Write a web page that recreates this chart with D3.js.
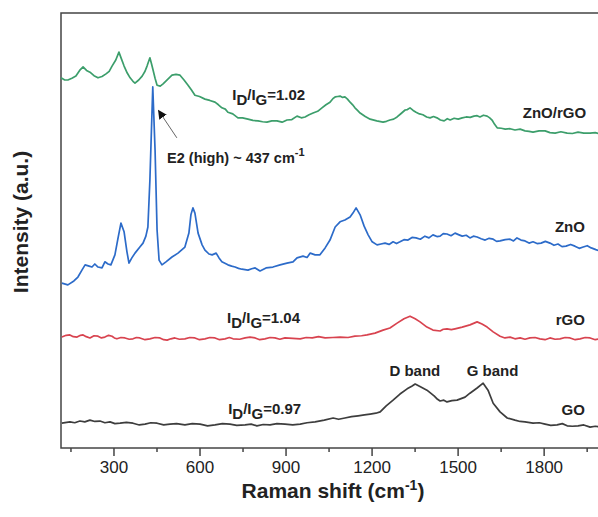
<html>
<head>
<meta charset="utf-8">
<script src="https://d3js.org/d3.v7.min.js"></script>
<style>
  body { margin: 0; background: #fff; }
  text { font-family: "Liberation Sans", Arial, sans-serif; fill: #222; }
</style>
</head>
<body>
<svg id="chart"></svg>
<script>
// Raman spectra, [shift cm-1, intensity a.u.]
var goData = [[120,5.7],[148,6.0],[165,5.8],[183,6.2],[200,6.0],[218,6.4],[235,6.1],[253,6.2],[270,5.8],[288,6.0],[305,5.6],[323,5.7],[345,5.9],[368,5.7],[390,5.3],[410,5.5],[430,5.8],[452,5.7],[475,5.3],[497,5.5],[520,5.6],[549,5.3],[575,5.6],[602,5.5],[628,5.1],[654,5.3],[680,5.6],[706,5.5],[730,5.2],[759,5.3],[780,5.5],[800,5.1],[822,5.4],[846,5.3],[870,5.6],[898,5.5],[925,5.3],[951,5.5],[975,5.8],[1003,6.0],[1035,6.4],[1066,6.9],[1085,6.6],[1107,6.9],[1130,7.2],[1153,7.4],[1175,7.6],[1195,7.8],[1215,8.0],[1230,8.3],[1251,9.7],[1275,11.0],[1299,12.4],[1324,13.6],[1340,14.2],[1352,14.7],[1372,14.0],[1393,13.3],[1418,12.0],[1430,11.2],[1439,10.8],[1452,11.0],[1463,10.6],[1480,10.9],[1498,11.0],[1526,11.7],[1543,12.6],[1568,13.8],[1589,14.9],[1606,13.3],[1624,10.3],[1648,8.3],[1673,6.9],[1700,6.4],[1718,6.1],[1735,6.0],[1763,5.7],[1785,5.8],[1805,5.5],[1825,5.2],[1847,5.3],[1865,5.6],[1882,5.1],[1900,5.0],[1920,5.1],[1940,5.3],[1962,4.8],[1980,5.0],[1997,4.8]];

var rgoData = [[120,25.5],[135,25.9],[148,26.0],[160,25.6],[173,25.5],[185,25.9],[194,26.0],[205,25.6],[218,25.3],[232,25.8],[246,25.7],[258,25.3],[270,25.5],[283,25.9],[295,25.7],[303,25.3],[312,25.1],[326,25.4],[340,25.3],[355,25.0],[368,25.1],[380,25.4],[392,25.3],[410,24.9],[427,25.1],[445,25.4],[462,25.3],[475,24.9],[487,24.8],[500,25.1],[514,25.3],[530,25.0],[549,25.1],[566,25.4],[584,25.3],[600,24.9],[619,25.1],[636,25.4],[654,25.3],[670,24.9],[689,25.1],[704,25.4],[717,25.1],[740,25.0],[759,25.3],[776,25.5],[794,25.3],[810,24.9],[828,25.1],[846,25.4],[863,25.3],[880,25.0],[898,25.3],[925,25.2],[951,25.1],[972,25.4],[993,25.3],[1015,25.6],[1038,25.3],[1065,25.4],[1090,25.5],[1118,25.4],[1142,25.7],[1165,25.8],[1184,26.0],[1212,26.4],[1240,27.1],[1264,27.6],[1289,28.7],[1313,29.7],[1334,30.3],[1352,29.7],[1369,29.0],[1393,27.8],[1414,27.1],[1439,26.9],[1450,27.3],[1463,27.4],[1478,27.2],[1491,27.4],[1516,27.8],[1543,28.3],[1568,29.0],[1585,28.5],[1603,27.8],[1624,26.7],[1648,25.7],[1665,25.3],[1683,25.5],[1700,25.1],[1718,25.3],[1735,25.0],[1752,25.3],[1770,25.4],[1787,25.1],[1805,24.9],[1822,25.3],[1840,25.0],[1857,25.1],[1875,25.4],[1892,25.3],[1910,24.9],[1927,25.1],[1945,25.4],[1962,25.3],[1980,24.9],[1997,25.1]];

var znoData = [[120,37.9],[141,37.5],[162,38.4],[176,39.3],[190,40.9],[201,42.1],[215,41.8],[225,41.6],[235,42.3],[246,41.6],[260,41.4],[270,42.8],[281,42.3],[291,42.1],[305,44.4],[316,48.3],[326,51.7],[337,49.7],[347,45.1],[354,42.5],[364,43.7],[375,44.8],[392,46.2],[403,47.1],[413,48.7],[420,50.8],[427,61.6],[437,83.0],[445,68.5],[452,50.1],[459,43.2],[469,42.1],[483,42.8],[504,43.9],[525,44.8],[549,46.2],[563,49.4],[570,53.6],[577,55.2],[584,54.0],[595,49.4],[609,46.7],[619,45.5],[633,44.6],[644,44.4],[658,44.8],[668,43.7],[678,42.8],[699,42.1],[712,41.8],[724,41.6],[736,41.3],[748,41.1],[769,40.9],[782,41.2],[794,41.4],[811,40.7],[832,41.4],[856,41.6],[881,42.1],[905,42.5],[926,42.8],[940,43.7],[961,44.1],[975,43.8],[986,44.8],[1003,44.4],[1020,44.4],[1038,46.0],[1055,47.8],[1073,50.8],[1090,52.0],[1107,52.4],[1125,53.1],[1135,54.0],[1146,55.2],[1160,53.6],[1174,51.0],[1188,49.0],[1202,47.4],[1219,46.7],[1233,46.9],[1247,47.1],[1261,46.8],[1275,47.4],[1287,47.0],[1299,47.4],[1313,47.9],[1327,47.8],[1341,48.4],[1355,48.3],[1370,48.0],[1386,48.7],[1400,48.3],[1414,49.0],[1428,48.6],[1439,48.7],[1450,49.3],[1463,49.2],[1477,48.8],[1491,49.4],[1505,49.0],[1516,48.7],[1530,48.9],[1543,48.3],[1555,48.7],[1568,48.5],[1582,48.1],[1596,47.8],[1610,48.2],[1624,48.0],[1636,47.5],[1648,47.6],[1666,47.9],[1683,48.0],[1695,47.6],[1707,48.3],[1721,47.8],[1735,47.6],[1749,47.1],[1763,47.4],[1777,47.0],[1791,47.1],[1806,47.5],[1822,47.1],[1836,46.6],[1850,46.9],[1864,46.3],[1878,46.4],[1894,46.8],[1909,46.4],[1924,45.9],[1938,46.2],[1952,46.5],[1966,46.0],[1982,45.6],[1997,45.3]];

var znoRgoData = [[117,85.1],[130,84.6],[141,84.6],[155,85.0],[169,85.5],[182,86.8],[194,87.6],[206,86.8],[218,86.4],[232,85.6],[246,85.1],[260,85.4],[274,86.0],[285,86.6],[295,87.8],[308,89.2],[319,91.0],[328,89.4],[337,87.8],[348,86.2],[358,85.1],[368,84.3],[375,83.9],[388,84.6],[400,85.5],[410,86.6],[417,87.8],[427,89.7],[433,88.2],[438,86.9],[445,85.0],[452,83.4],[463,83.2],[473,83.7],[488,84.7],[504,85.7],[518,85.9],[532,85.7],[546,84.6],[560,83.4],[572,82.3],[584,81.1],[600,80.8],[619,80.2],[636,79.9],[654,79.5],[666,78.9],[678,78.2],[690,77.9],[699,77.2],[716,76.8],[734,75.9],[750,75.9],[769,75.6],[786,75.3],[804,75.2],[820,75.0],[835,74.9],[852,75.2],[870,75.2],[888,74.9],[905,75.4],[922,75.5],[940,76.3],[955,75.9],[968,76.1],[982,76.6],[996,77.0],[1012,77.4],[1027,78.2],[1041,78.9],[1055,79.5],[1065,80.3],[1073,80.7],[1082,80.8],[1090,80.9],[1099,80.6],[1107,80.7],[1116,80.2],[1125,79.5],[1134,78.9],[1142,78.2],[1151,77.6],[1160,77.0],[1178,76.2],[1195,75.6],[1218,75.2],[1240,74.9],[1252,75.1],[1264,75.4],[1277,75.6],[1289,76.1],[1303,76.9],[1317,77.7],[1325,77.8],[1334,78.2],[1345,77.6],[1355,77.2],[1367,76.8],[1379,76.6],[1392,76.1],[1404,75.9],[1416,76.2],[1428,75.9],[1440,75.4],[1453,75.2],[1464,75.7],[1474,75.4],[1488,75.8],[1502,75.6],[1516,75.9],[1530,76.1],[1544,76.0],[1557,76.3],[1568,76.4],[1578,76.1],[1590,76.5],[1603,76.3],[1612,75.9],[1620,75.4],[1629,74.4],[1638,73.6],[1652,73.5],[1666,73.3],[1683,73.4],[1700,73.1],[1718,73.3],[1735,72.9],[1749,72.8],[1763,72.6],[1784,72.9],[1805,72.9],[1822,72.5],[1840,72.4],[1860,72.7],[1882,72.4],[1900,72.3],[1920,72.6],[1940,72.4],[1962,72.4],[1980,72.5],[1997,72.2]];

var seriesNames = ["GO", "rGO", "ZnO", "ZnO/rGO"];
var seriesColors = ["#3d3d3d", "#d8434f", "#2c6bc9", "#3c9e6b"];
var xTicks = [300, 600, 900, 1200, 1500, 1800];
var xMinorTicks = [150, 450, 750, 1050, 1350, 1650, 1950];

var width = 598, height = 517;
var margins = {top: 13, left: 61, right: -3, bottom: 69};

var svg = d3.select("#chart")
    .attr("width", width)
    .attr("height", height);

var xScale = d3.scaleLinear()
    .domain([117, 2000])
    .range([margins.left, width - margins.right]);

var yScale = d3.scaleLinear()
    .domain([0, 100])
    .range([height - margins.bottom, margins.top]);

// frame
svg.append("rect")
    .attr("x", margins.left)
    .attr("y", margins.top)
    .attr("width", width - margins.right - margins.left)
    .attr("height", height - margins.bottom - margins.top)
    .attr("fill", "none")
    .attr("stroke", "#444")
    .attr("stroke-width", 1.5);

// x axis, major + minor ticks
var xAxis = svg.append("g")
    .attr("transform", "translate(0," + (height - margins.bottom) + ")")
    .call(d3.axisBottom(xScale).tickValues(xTicks).tickFormat(d3.format("d"))
        .tickSize(8).tickSizeOuter(0).tickPadding(5));
xAxis.select(".domain").remove();
xAxis.selectAll("line").attr("stroke", "#444").attr("stroke-width", 1.5);
xAxis.selectAll("text")
    .attr("font-size", 17)
    .attr("fill", "#222")
    .style("font-family", "Liberation Sans, Arial, sans-serif");

var xMinor = svg.append("g")
    .attr("transform", "translate(0," + (height - margins.bottom) + ")")
    .call(d3.axisBottom(xScale).tickValues(xMinorTicks).tickSize(4).tickSizeOuter(0).tickFormat(""));
xMinor.select(".domain").remove();
xMinor.selectAll("line").attr("stroke", "#444").attr("stroke-width", 1.5);

// spectra
var line = d3.line()
    .x(function(d) { return xScale(d[0]); })
    .y(function(d) { return yScale(d[1]); });

var allData = [goData, rgoData, znoData, znoRgoData];
var plot = svg.append("g");
allData.forEach(function(data, i) {
    plot.append("path")
        .datum(data)
        .attr("d", line)
        .attr("fill", "none")
        .attr("stroke", seriesColors[i])
        .attr("stroke-width", 1.7)
        .attr("stroke-linejoin", "round");
});

// series labels
var labelPos = [[1944, 7.6], [1944, 28.3], [1944, 49.7], [1948, 75.9]];
seriesNames.forEach(function(name, i) {
    svg.append("text")
        .attr("x", xScale(labelPos[i][0]))
        .attr("y", yScale(labelPos[i][1]))
        .attr("text-anchor", "end")
        .attr("font-size", 15)
        .attr("font-weight", "bold")
        .text(name);
});

// ID/IG ratios
var ratios = [["0.97", 700, 7.8], ["1.04", 696, 28.7], ["1.02", 714, 80.0]];
ratios.forEach(function(r) {
    var t = svg.append("text")
        .attr("x", xScale(r[1]))
        .attr("y", yScale(r[2]))
        .attr("font-size", 15)
        .attr("font-weight", "bold");
    t.append("tspan").text("I");
    t.append("tspan").attr("dy", 5).text("D");
    t.append("tspan").attr("dy", -5).text("/I");
    t.append("tspan").attr("dy", 5).text("G");
    t.append("tspan").attr("dy", -5).text("=" + r[0]);
});

// band labels
svg.append("text")
    .attr("x", xScale(1351))
    .attr("y", yScale(16.6))
    .attr("text-anchor", "middle")
    .attr("font-size", 15)
    .attr("font-weight", "bold")
    .text("D band");
svg.append("text")
    .attr("x", xScale(1532))
    .attr("y", yScale(16.6))
    .attr("font-size", 15)
    .attr("font-weight", "bold")
    .text("G band");

// E2 annotation with arrow
svg.append("defs").append("marker")
    .attr("id", "head")
    .attr("viewBox", "0 0 10 10")
    .attr("refX", 9).attr("refY", 5)
    .attr("markerWidth", 9).attr("markerHeight", 9)
    .attr("markerUnits", "userSpaceOnUse")
    .attr("orient", "auto")
    .append("path")
    .attr("d", "M0,0L10,5L0,10z")
    .attr("fill", "#111");

svg.append("line")
    .attr("x1", xScale(521)).attr("y1", yScale(71.3))
    .attr("x2", xScale(457)).attr("y2", yScale(77.6))
    .attr("stroke", "#666")
    .attr("stroke-width", 1)
    .attr("marker-end", "url(#head)");

var e2 = svg.append("text")
    .attr("x", xScale(487))
    .attr("y", yScale(65.5))
    .attr("font-size", 14.5)
    .attr("font-weight", "bold");
e2.append("tspan").text("E2 (high) ~ 437 cm");
e2.append("tspan").attr("dy", -7).attr("font-size", 11).text("-1");

// axis titles
var xt = svg.append("text")
    .attr("x", 333)
    .attr("y", 498)
    .attr("text-anchor", "middle")
    .attr("font-size", 21)
    .attr("font-weight", "bold");
xt.append("tspan").text("Raman shift (cm");
xt.append("tspan").attr("dy", -8).attr("font-size", 14).text("-1");
xt.append("tspan").attr("dy", 8).text(")");

svg.append("text")
    .attr("transform", "translate(28,222) rotate(-90)")
    .attr("text-anchor", "middle")
    .attr("font-size", 21)
    .attr("font-weight", "bold")
    .text("Intensity (a.u.)");
</script>
</body>
</html>
